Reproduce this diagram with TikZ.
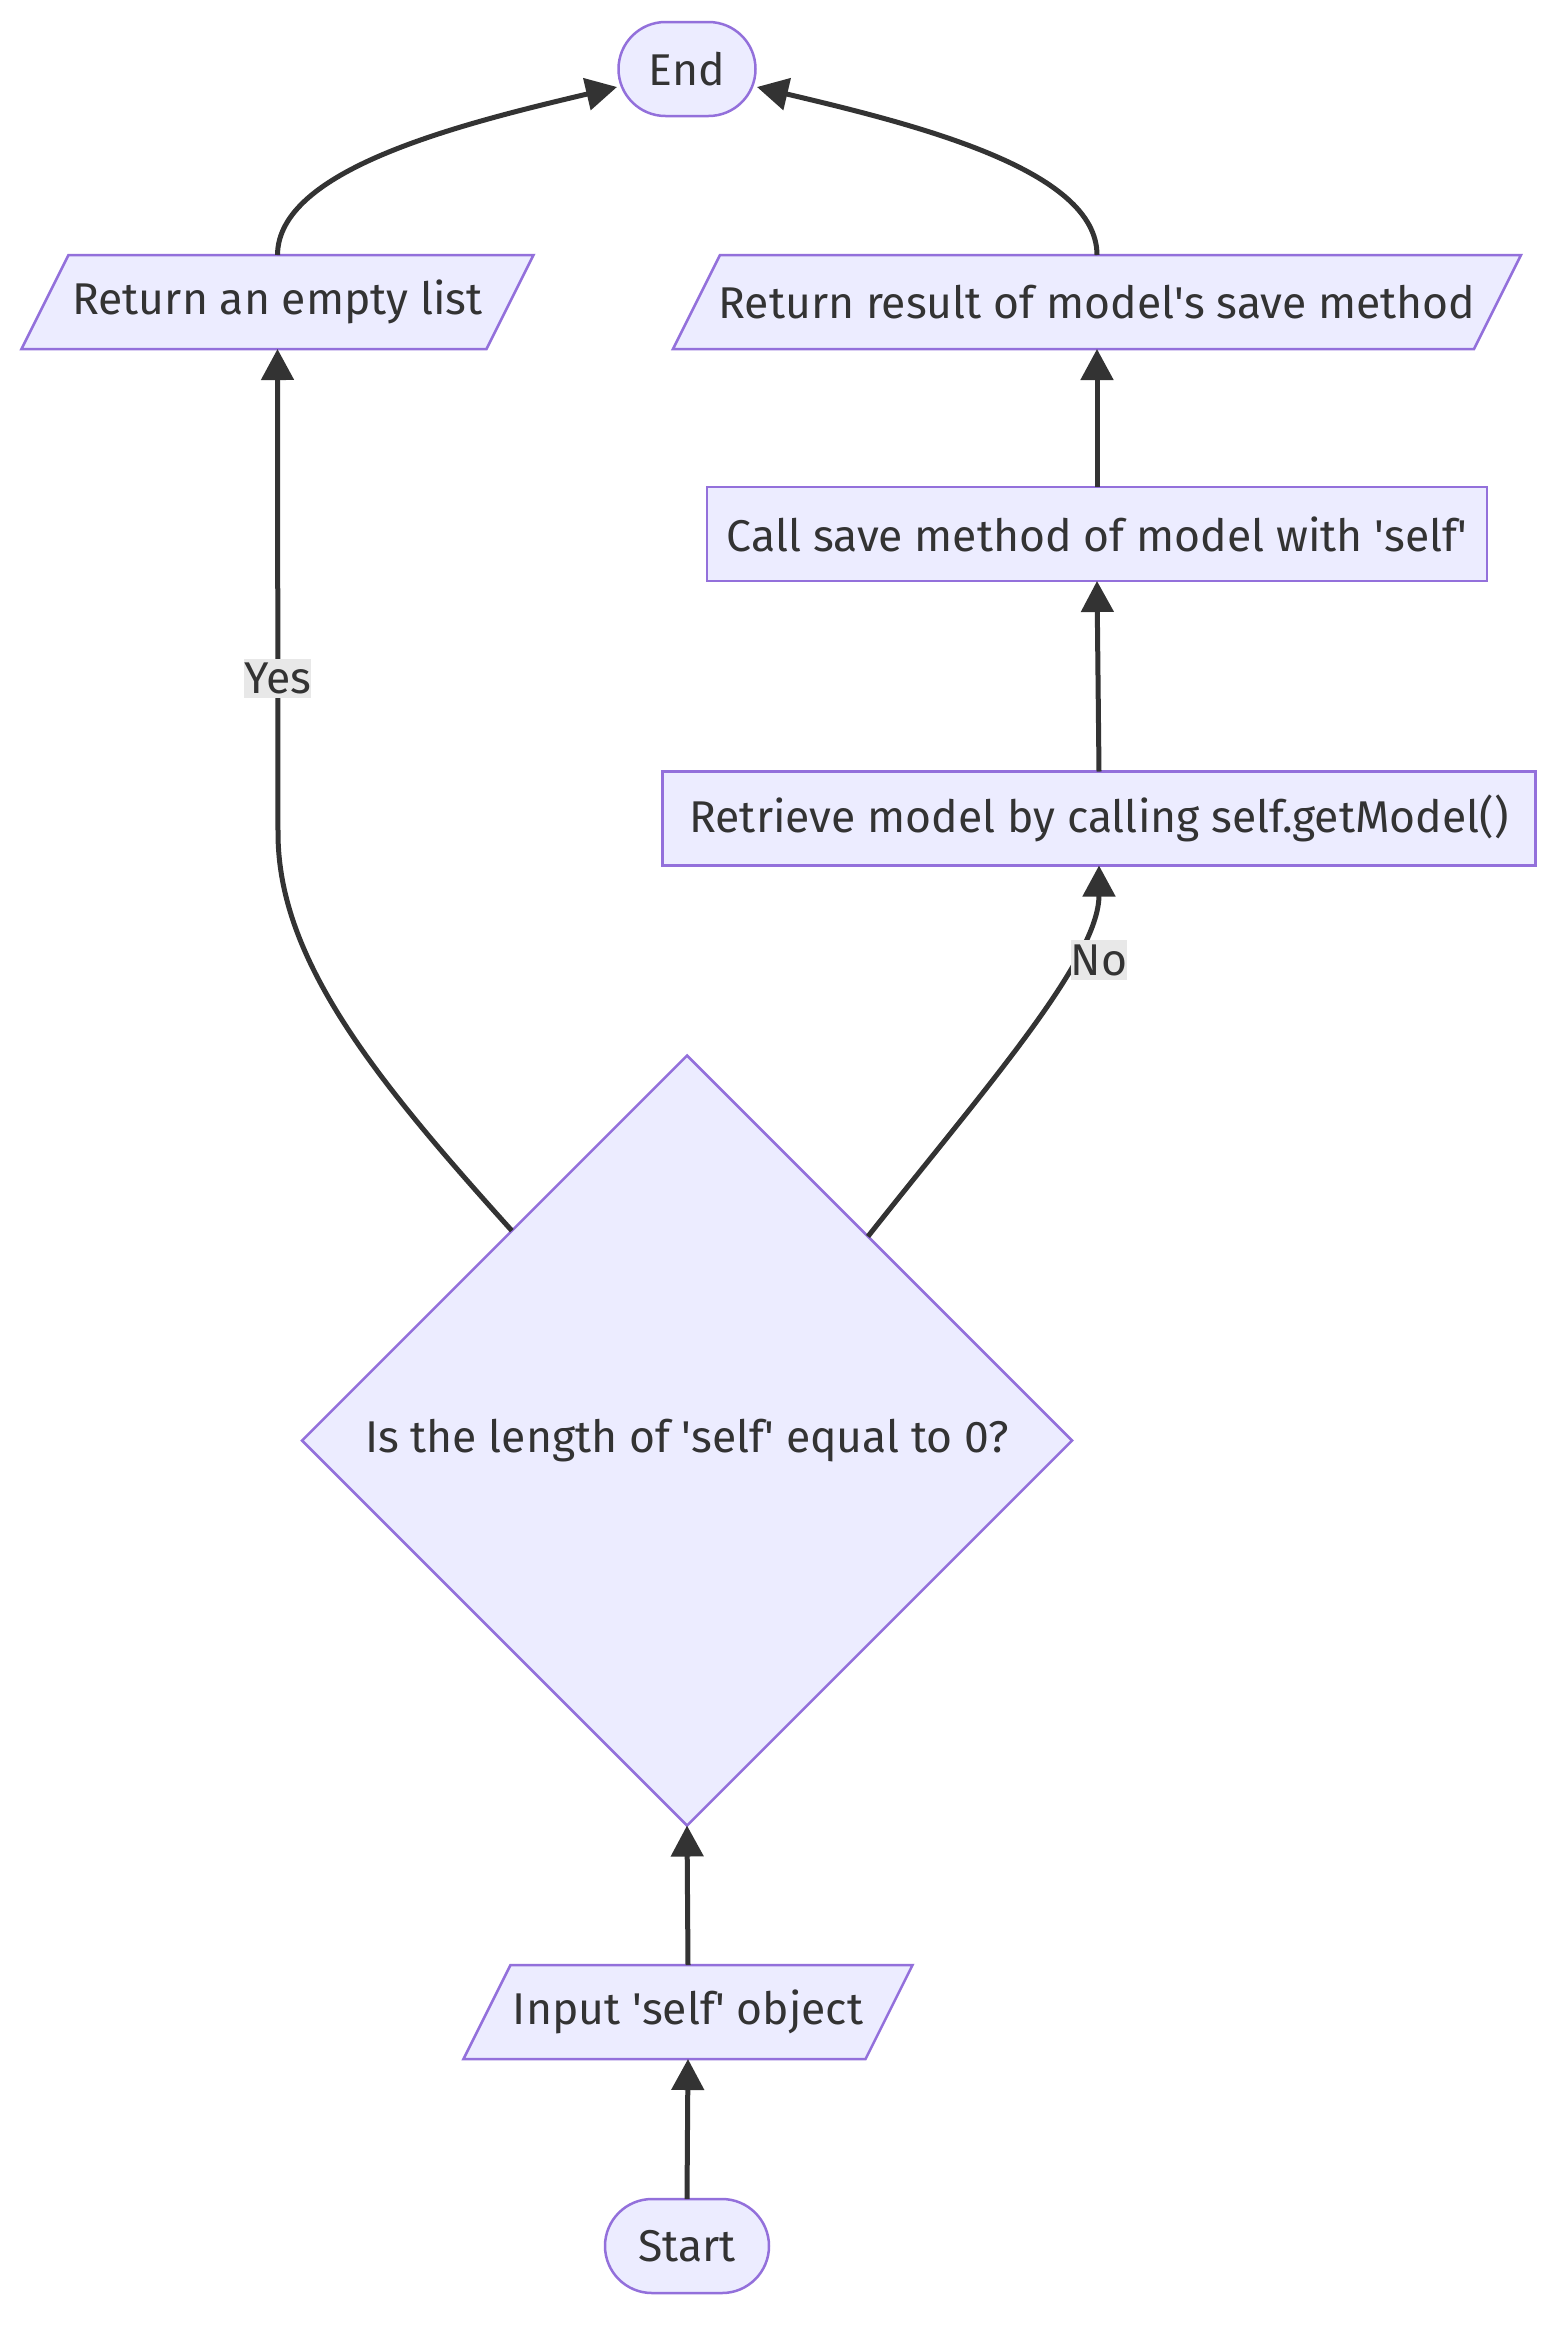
\documentclass[tikz,border=0pt]{standalone}
\usepackage{fontspec}
\setmainfont{Fira Sans}
\usetikzlibrary{arrows.meta,shapes.geometric,calc,backgrounds}
\definecolor{nfill}{HTML}{ECECFF}
\definecolor{nline}{HTML}{9370DB}
\definecolor{ink}{HTML}{333333}
\definecolor{lblbg}{HTML}{E8E8E8}
\newcommand\sq{\textquotesingle}
\begin{document}
\begin{tikzpicture}[x=1pt,y=-1pt,
  every node/.style={font=\fontsize{44.5}{52}\selectfont, text=ink},
  shapeline/.style={draw=nline, fill=nfill, line width=2.5pt},
  stadium/.style={shapeline, rectangle, rounded corners=47pt, minimum height=94pt, inner sep=0pt, outer sep=0pt},
  para/.style={rectangle, minimum height=94pt, inner sep=0pt, outer sep=0pt},
  procbox/.style={shapeline, rectangle, minimum height=94pt, inner sep=0pt, outer sep=0pt},
  decision/.style={shapeline, diamond, aspect=1, minimum width=770pt, minimum height=770pt, inner sep=0pt, outer sep=0pt},
  edge/.style={draw=ink, line width=5pt, -{Triangle[length=31pt,width=32pt]}},
  lbl/.style={fill=lblbg, inner xsep=0pt, inner ysep=4pt, text=ink}
]
\useasboundingbox (0,0) rectangle (1568,2338);

\node[stadium, minimum width=137pt] (end) at (687,69) {End};
\node[para, minimum width=465pt] (empty) at (277.5,302) {Return an empty list};
\node[para, minimum width=801pt] (result) at (1097,302) {Return result of model\sq s save method};
\node[procbox, minimum width=780pt] (call) at (1097,534) {Call save method of model with \sq self\sq};
\node[procbox, minimum width=873pt] (retr) at (1099,818.5) {Retrieve model by calling self.getModel()};
\node[decision] (dec) at (687,1440.5) {Is the length of \sq self\sq{} equal to 0?};
\node[para, minimum width=402pt] (input) at (688,2012) {Input \sq self\sq{} object};
\node[stadium, minimum width=164pt] (start) at (687,2246) {Start};

\begin{scope}[on background layer]
\foreach \n in {empty,result,input}{
  \draw[shapeline] ($(\n.north west)+(23.5,0)$) -- ($(\n.north east)+(23.5,0)$)
    -- ($(\n.south east)+(-23.5,0)$) -- ($(\n.south west)+(-23.5,0)$) -- cycle;
}
\end{scope}

% connectors
\draw[edge] (start.north) -- (input.south);
\draw[edge] (input.north) -- (dec.south);
\coordinate (yesA) at ($(dec.west)!0.545!(dec.north)$);
\coordinate (noA) at ($(dec.east)!0.53!(dec.north)$);
\draw[edge] (yesA) .. controls (376,1080) and (278,960) .. (278,833)
  -- node[lbl, pos=0.32] (yes) {Yes} (empty.south);
\draw[edge] (noA) .. controls (982,1092) and (1099,960) .. (retr.south);
\path (1099,960) node[lbl] (no) {No};
\draw[edge] (retr.north) -- (call.south);
\draw[edge] (call.north) -- (result.south);
\draw[edge] (empty.north) .. controls (278,170) and (456,125) .. ($(end.center)+(-70,18)$);
\draw[edge] (result.north) .. controls (1097,170) and (918,125) .. ($(end.center)+(70,18)$);
\end{tikzpicture}
\end{document}
